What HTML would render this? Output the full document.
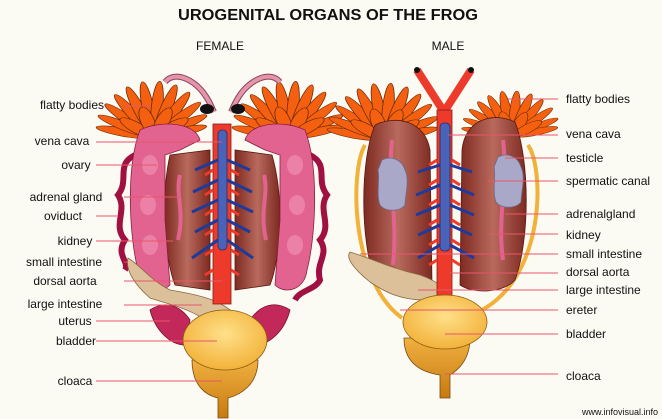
<!DOCTYPE html>
<html><head><meta charset="utf-8"><style>
html,body{margin:0;padding:0;background:#fbfaf3;}
svg{display:block;}
text{font-family:"Liberation Sans",Arial,sans-serif;fill:#111;}
</style></head><body>
<svg width="662" height="419" viewBox="0 0 662 419" xmlns="http://www.w3.org/2000/svg">
<defs>
<linearGradient id="kid" x1="0" x2="1"><stop offset="0" stop-color="#7e2a22"/><stop offset="0.5" stop-color="#b86a5c"/><stop offset="1" stop-color="#7e2a22"/></linearGradient>
<radialGradient id="bl" cx="0.5" cy="0.4" r="0.6"><stop offset="0" stop-color="#ffe08a"/><stop offset="1" stop-color="#f2b23a"/></radialGradient>
<linearGradient id="cl" x1="0" x2="0" y1="0" y2="1"><stop offset="0" stop-color="#f0b040"/><stop offset="1" stop-color="#c77a10"/></linearGradient>
<g id="fat" fill="#f4600f" stroke="#6a2a08" stroke-width="0.7">
<ellipse cx="0" cy="-28" rx="5" ry="24" transform="rotate(-75)"/>
<ellipse cx="0" cy="-30" rx="5" ry="26" transform="rotate(-60)"/>
<ellipse cx="0" cy="-32" rx="5" ry="28" transform="rotate(-45)"/>
<ellipse cx="0" cy="-34" rx="5" ry="30" transform="rotate(-32)"/>
<ellipse cx="0" cy="-36" rx="5" ry="32" transform="rotate(-20)"/>
<ellipse cx="0" cy="-38" rx="5" ry="33" transform="rotate(-8)"/>
<ellipse cx="0" cy="-38" rx="5" ry="33" transform="rotate(4)"/>
<ellipse cx="0" cy="-37" rx="5" ry="32" transform="rotate(16)"/>
<ellipse cx="0" cy="-35" rx="5" ry="30" transform="rotate(28)"/>
<ellipse cx="0" cy="-32" rx="5" ry="28" transform="rotate(42)"/>
<ellipse cx="0" cy="-29" rx="5" ry="25" transform="rotate(58)"/>
<ellipse cx="0" cy="-26" rx="5" ry="22" transform="rotate(72)"/>
<ellipse cx="0" cy="-20" rx="6" ry="18" transform="rotate(-50)"/>
<ellipse cx="0" cy="-22" rx="6" ry="18" transform="rotate(-15)"/>
<ellipse cx="0" cy="-22" rx="6" ry="18" transform="rotate(20)"/>
<ellipse cx="0" cy="-20" rx="6" ry="18" transform="rotate(50)"/>
</g>
</defs>
<text x="328" y="20" font-size="16" font-weight="bold" text-anchor="middle" textLength="300" lengthAdjust="spacingAndGlyphs">UROGENITAL ORGANS OF THE FROG</text>
<text x="220" y="50" font-size="12" text-anchor="middle">FEMALE</text>
<text x="448" y="50" font-size="12" text-anchor="middle">MALE</text>

<!-- FEMALE -->
<use href="#fat" transform="translate(154,138) scale(1.15,0.8)"/>
<use href="#fat" transform="translate(290,138) scale(1.15,0.8)"/>
<path d="M165,82 C175,70 195,80 205,95 C210,102 212,108 214,112" stroke="#8a4060" stroke-width="6" fill="none"/>
<path d="M165,82 C175,70 195,80 205,95 C210,102 212,108 214,112" stroke="#e595a8" stroke-width="4" fill="none"/>
<path d="M280,82 C270,70 250,80 240,95 C235,102 233,108 231,112" stroke="#8a4060" stroke-width="6" fill="none"/>
<path d="M280,82 C270,70 250,80 240,95 C235,102 233,108 231,112" stroke="#e595a8" stroke-width="4" fill="none"/>
<ellipse cx="207" cy="109" rx="7" ry="5" fill="#111"/><ellipse cx="238" cy="109" rx="7" ry="5" fill="#111"/>
<path d="M135,155 C115,165 130,180 118,195 C128,210 112,225 125,240 C115,255 130,262 125,270" stroke="#a01040" stroke-width="6" fill="none"/>
<path d="M310,155 C330,165 315,180 327,195 C317,210 333,225 320,240 C330,255 315,262 320,280 C315,290 300,290 295,300" stroke="#a01040" stroke-width="6" fill="none"/>
<path d="M170,155 L210,150 L210,290 L175,285 C165,260 160,200 170,155Z" fill="url(#kid)" stroke="#5a1a10" stroke-width="0.8"/>
<path d="M272,155 L235,150 L235,290 L270,285 C280,260 285,200 272,155Z" fill="url(#kid)" stroke="#5a1a10" stroke-width="0.8"/>
<path d="M140,130 C160,120 195,122 200,140 L180,150 L165,155 L165,220 L170,285 C160,295 140,290 138,270 C130,240 125,170 140,130Z" fill="#e2638f" stroke="#8a2040" stroke-width="0.8"/>
<path d="M305,130 C285,120 250,122 245,140 L265,150 L280,155 L280,220 L275,285 C285,295 305,290 307,270 C315,240 320,170 305,130Z" fill="#e2638f" stroke="#8a2040" stroke-width="0.8"/>
<g fill="#f08fb0" opacity="0.7"><ellipse cx="150" cy="165" rx="8" ry="10"/><ellipse cx="148" cy="205" rx="8" ry="10"/><ellipse cx="150" cy="245" rx="8" ry="10"/><ellipse cx="295" cy="165" rx="8" ry="10"/><ellipse cx="297" cy="205" rx="8" ry="10"/><ellipse cx="295" cy="245" rx="8" ry="10"/></g>
<path d="M180,175 C175,195 185,210 178,240" stroke="#e2638f" stroke-width="4" fill="none"/>
<path d="M264,175 C269,195 259,210 266,240" stroke="#e2638f" stroke-width="4" fill="none"/>
<path d="M150,310 C165,300 180,305 190,320 L185,345 C170,345 155,330 150,310Z" fill="#c3285a" stroke="#7a1030" stroke-width="0.8"/>
<path d="M290,310 C275,300 260,305 250,320 L255,345 C270,345 285,330 290,310Z" fill="#c3285a" stroke="#7a1030" stroke-width="0.8"/>
<path d="M128,258 C140,265 150,280 170,290 C200,295 225,300 240,320 L215,330 C200,310 170,305 150,298 C135,285 125,270 128,258Z" fill="#dcc09a" stroke="#8a6a40" stroke-width="0.8"/>
<rect x="213" y="124" width="18" height="180" fill="#ee3a2a" stroke="#8a1a10" stroke-width="0.8"/>
<rect x="218" y="130" width="9" height="120" rx="4" fill="#4a63b8" stroke="#22306a" stroke-width="0.8"/>
<g stroke="#1f3a9a" stroke-width="3" fill="none">
<path d="M218,160 L195,170 M218,180 L193,192 M218,200 L192,212 M218,220 L195,232 M218,240 L192,258"/>
<path d="M227,160 L250,170 M227,180 L252,192 M227,200 L253,212 M227,220 L250,232 M227,240 L253,258"/>
</g>
<g stroke="#ee3a2a" stroke-width="3"><path d="M213,170 L205,175 M213,190 L205,195 M213,210 L205,215 M213,230 L205,235 M213,250 L205,255 M213,270 L205,275 M231,170 L239,175 M231,190 L239,195 M231,210 L239,215 M231,230 L239,235 M231,250 L239,255 M231,270 L239,275"/></g>
<path d="M192,360 L258,360 C258,385 240,395 228,398 L228,418 L218,418 L218,398 C205,395 192,385 192,360Z" fill="url(#cl)" stroke="#7a4a10" stroke-width="0.8"/>
<ellipse cx="225" cy="340" rx="42" ry="30" fill="url(#bl)" stroke="#8a5a10" stroke-width="0.8"/>

<!-- MALE -->
<use href="#fat" transform="translate(385,140) scale(1.15,0.8)"/>
<use href="#fat" transform="translate(512,137) scale(1.0,0.65)"/>
<path d="M365,145 C350,170 350,280 402,318" stroke="#f2b23a" stroke-width="4" fill="none"/>
<path d="M528,145 C545,170 545,280 478,312" stroke="#f2b23a" stroke-width="4" fill="none"/>
<path d="M375,125 C395,115 425,120 430,150 L432,285 C415,295 385,295 375,280 C360,240 360,160 375,125Z" fill="url(#kid)" stroke="#5a1a10" stroke-width="0.8"/>
<path d="M515,122 C495,112 465,118 462,150 L460,285 C475,295 505,292 515,280 C530,240 530,160 515,122Z" fill="url(#kid)" stroke="#5a1a10" stroke-width="0.8"/>
<path d="M392,140 C388,180 398,220 393,265" stroke="#e2638f" stroke-width="4" fill="none"/>
<path d="M503,140 C508,180 497,220 503,260" stroke="#e2638f" stroke-width="4" fill="none"/>
<path d="M382,160 C392,155 402,160 405,170 C410,180 405,195 405,205 C400,212 385,212 380,205 C376,195 380,180 378,170Z" fill="#a9a8c8" stroke="#6a6a8a" stroke-width="0.8"/>
<path d="M498,157 C508,152 518,157 521,167 C526,177 521,192 521,202 C516,209 501,209 496,202 C492,192 496,177 494,167Z" fill="#a9a8c8" stroke="#6a6a8a" stroke-width="0.8"/>
<path d="M350,252 C370,258 390,268 420,275 C440,282 450,292 450,298 L425,300 C400,300 385,292 370,282 C355,270 345,258 350,252Z" fill="#dcc09a" stroke="#8a6a40" stroke-width="0.8"/>
<path d="M417,70 L444,112 L471,70" stroke="#ee3a2a" stroke-width="8" fill="none"/>
<circle cx="417" cy="70" r="3" fill="#111"/><circle cx="471" cy="70" r="3" fill="#111"/>
<rect x="437" y="110" width="15" height="190" fill="#ee3a2a" stroke="#8a1a10" stroke-width="0.8"/>
<rect x="440" y="123" width="10" height="128" rx="4" fill="#4a63b8" stroke="#22306a" stroke-width="0.8"/>
<g stroke="#1f3a9a" stroke-width="3" fill="none">
<path d="M440,165 L418,172 M440,185 L416,195 M440,205 L416,215 M440,225 L418,235 M440,245 L418,258"/>
<path d="M450,165 L472,172 M450,185 L474,195 M450,205 L474,215 M450,225 L472,235 M450,245 L474,258"/>
</g>
<g stroke="#ee3a2a" stroke-width="3"><path d="M437,160 L429,165 M437,180 L429,185 M437,200 L429,205 M437,220 L429,225 M437,240 L429,245 M437,260 L429,265 M452,160 L460,165 M452,180 L460,185 M452,200 L460,205 M452,220 L460,225 M452,240 L460,245 M452,260 L460,265"/></g>
<path d="M404,338 L470,338 C470,362 455,372 450,375 L450,398 L440,398 L440,375 C420,372 404,362 404,338Z" fill="url(#cl)" stroke="#7a4a10" stroke-width="0.8"/>
<ellipse cx="445" cy="322" rx="42" ry="27" fill="url(#bl)" stroke="#8a5a10" stroke-width="0.8"/>

<g stroke="#e8566a" stroke-width="1">
<path d="M124,106 H150 M96,142 H222 M96,165 H157 M124,197 H180 M96,216 H117 M96,241 H173 M124,262 H128 M124,281 H222 M124,305 H202 M96,321 H170 M96,341 H217 M96,381 H222"/>
<path d="M508,99 H558 M448,135 H558 M505,158 H558 M487,181 H558 M505,214 H558 M490,234 H558 M360,254 H558 M450,273 H558 M418,290 H558 M400,310 H558 M445,334 H558 M445,374 H558"/>
</g>
<g font-size="12" text-anchor="middle">
<text x="72" y="109">flatty bodies</text><text x="62" y="145">vena cava</text><text x="76" y="169">ovary</text>
<text x="66" y="201">adrenal gland</text><text x="63" y="220">oviduct</text><text x="75" y="245">kidney</text>
<text x="64" y="266">small intestine</text><text x="65" y="285">dorsal aorta</text><text x="65" y="308">large intestine</text>
<text x="75" y="325">uterus</text><text x="76" y="345">bladder</text><text x="75" y="385">cloaca</text>
</g>
<g font-size="12">
<text x="566" y="103">flatty bodies</text><text x="566" y="138">vena cava</text><text x="566" y="162">testicle</text>
<text x="566" y="185">spermatic canal</text><text x="566" y="218">adrenalgland</text><text x="566" y="239">kidney</text>
<text x="566" y="258">small intestine</text><text x="566" y="276">dorsal aorta</text><text x="566" y="294">large intestine</text>
<text x="566" y="314">ereter</text><text x="566" y="338">bladder</text><text x="566" y="380">cloaca</text>
</g>
<text x="658" y="415" font-size="9" text-anchor="end" fill="#555">www.infovisual.info</text>
</svg>
</body></html>
